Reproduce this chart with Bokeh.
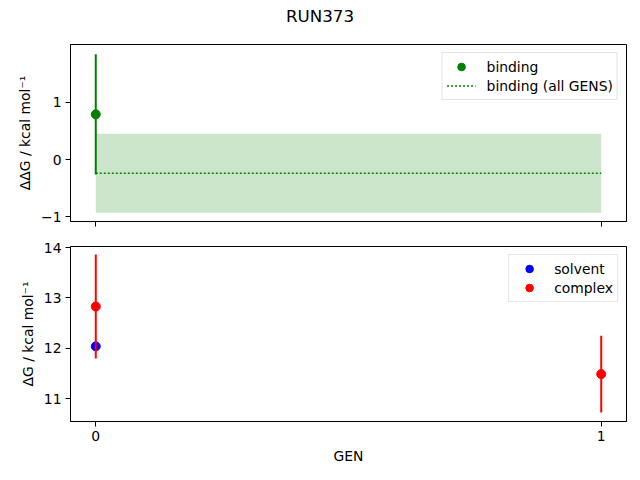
from bokeh.plotting import figure
from bokeh.layouts import column
from bokeh.models import Range1d, FixedTicker, Legend, LegendItem, Div
from bokeh.embed import file_html
from bokeh.resources import INLINE

# ---- data ----
title_text = "RUN373"
binding_gen = [0]
binding_dg = [0.79]
binding_err = [1.05]
all_gens = [0, 1]
binding_all = -0.24
binding_all_err = 0.69
solvent_gen = [0]
solvent_dg = [12.04]
complex_gen = [0, 1]
complex_dg = [12.83, 11.49]
complex_err = [1.03, 0.76]
x_ticks = [0, 1]
top_yticks = [-1, 0, 1]
bottom_yticks = [11, 12, 13, 14]

FONT = "DejaVu Sans"
FS = "13.9px"


def style(p, yticks):
    p.xgrid.visible = False
    p.ygrid.visible = False
    p.outline_line_color = "black"
    p.outline_line_width = 1
    for ax in (p.xaxis[0], p.yaxis[0]):
        ax.axis_line_color = "black"
        ax.axis_line_width = 1
        ax.major_tick_in = 0
        ax.major_tick_out = 5
        ax.major_tick_line_width = 1
        ax.major_tick_line_color = "black"
        ax.minor_tick_line_color = None
        ax.major_label_text_font = FONT
        ax.major_label_text_font_size = FS
        ax.major_label_text_color = "black"
        ax.major_label_standoff = 4
        ax.axis_label_text_font = FONT
        ax.axis_label_text_font_size = FS
        ax.axis_label_text_font_style = "normal"
        ax.axis_label_text_color = "black"
    p.xaxis[0].major_label_standoff = 4
    p.xaxis[0].ticker = FixedTicker(ticks=x_ticks)
    p.yaxis[0].ticker = FixedTicker(ticks=yticks)
    p.yaxis[0].major_label_overrides = {t: (("\u2212" + str(-t)) if t < 0 else str(t)) for t in yticks}


title_div = Div(text=('<div style="display: block; width: 640px; font-family: \'DejaVu Sans\'; '
                      'font-size: 16.7px; color: black; text-align: center; line-height: 32px; '
                      'margin: 0; padding: 0;">' + title_text + '</div>'),
                width=640, height=44, margin=0,
                styles={"width": "640px", "text-align": "center"})

p1 = figure(frame_width=556, frame_height=177, output_backend="svg", toolbar_location=None,
            min_border_left=70, min_border_right=14, min_border_top=0, min_border_bottom=13,
            x_range=Range1d(-0.05, 1.05), y_range=Range1d(-1.083, 2.01))
p1.title = None
style(p1, top_yticks)
p1.xaxis[0].major_label_overrides = {t: "" for t in x_ticks}
p1.xaxis[0].major_label_text_font_size = "1px"
p1.xaxis[0].major_label_standoff = 0
p1.yaxis[0].axis_label = "ΔΔG / kcal mol⁻¹"

band_lo = [binding_all - binding_all_err] * len(all_gens)
band_hi = [binding_all + binding_all_err] * len(all_gens)
p1.varea(x=all_gens, y1=band_lo, y2=band_hi, fill_color="green", fill_alpha=0.2)
lin = p1.line(x=all_gens, y=[binding_all] * len(all_gens), line_color="green",
              line_width=1.6, line_dash="2 2")
b_lo = [v - e for v, e in zip(binding_dg, binding_err)]
b_hi = [v + e for v, e in zip(binding_dg, binding_err)]
p1.segment(x0=binding_gen, y0=b_lo, x1=binding_gen, y1=b_hi, line_color="green", line_width=2)
sc1 = p1.scatter(x=binding_gen, y=binding_dg, size=9, fill_color="green", line_color="green")

leg1 = Legend(items=[LegendItem(label="binding", renderers=[sc1]),
                     LegendItem(label="binding (all GENS)", renderers=[lin])],
              location="top_right", margin=8, padding=4, spacing=0,
              glyph_width=29, glyph_height=19, label_height=19, label_standoff=11,
              label_text_font=FONT, label_text_font_size=FS, label_text_color="black",
              border_line_color="#cccccc", border_line_width=1, background_fill_alpha=0.8)
p1.add_layout(leg1)

p2 = figure(frame_width=556, frame_height=175, output_backend="svg", toolbar_location=None,
            min_border_left=70, min_border_right=14, min_border_top=12, min_border_bottom=50,
            x_range=Range1d(-0.05, 1.05), y_range=Range1d(10.55, 14.02))
style(p2, bottom_yticks)
p2.yaxis[0].axis_label = "ΔG / kcal mol⁻¹"
p2.xaxis[0].axis_label = "GEN"
p2.xaxis[0].axis_label_standoff = 4

sc_s = p2.scatter(x=solvent_gen, y=solvent_dg, size=9, fill_color="blue", line_color="blue")
c_lo = [v - e for v, e in zip(complex_dg, complex_err)]
c_hi = [v + e for v, e in zip(complex_dg, complex_err)]
p2.segment(x0=complex_gen, y0=c_lo, x1=complex_gen, y1=c_hi, line_color="red", line_width=2)
sc_c = p2.scatter(x=complex_gen, y=complex_dg, size=9, fill_color="red", line_color="red")

leg2 = Legend(items=[LegendItem(label="solvent", renderers=[sc_s]),
                     LegendItem(label="complex", renderers=[sc_c])],
              location="top_right", margin=8, padding=4, spacing=0,
              glyph_width=32, glyph_height=19, label_height=19, label_standoff=9,
              label_text_font=FONT, label_text_font_size=FS, label_text_color="black",
              border_line_color="#cccccc", border_line_width=1, background_fill_alpha=0.8)
p2.add_layout(leg2)

layout = column(title_div, p1, p2, spacing=0)
open("out.html", "w").write(file_html(layout, INLINE))
